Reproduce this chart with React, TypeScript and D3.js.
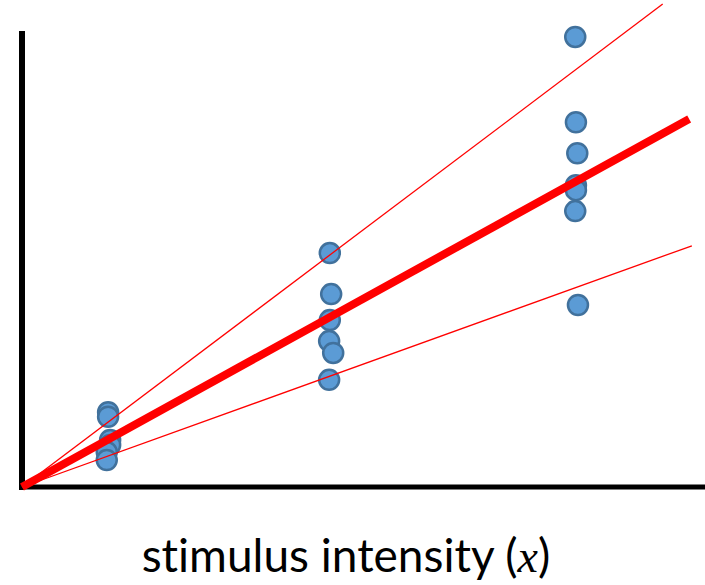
import React, { useEffect, useRef } from 'react';
import * as d3 from 'd3';

// stimulus levels (x) and responses (y), arbitrary units 0-100
const lowX = [12.7, 12.7, 13.0, 13.0, 12.5, 12.5];
const lowY = [16.4, 15.4, 10.3, 9.2, 7.7, 5.9];
const midX = [45.4, 45.6, 45.4, 45.3, 45.9, 45.3];
const midY = [51.3, 42.3, 36.6, 32.0, 29.4, 23.5];
const highX = [81.6, 81.7, 81.9, 81.7, 81.7, 81.6, 82.0];
const highY = [98.7, 80.0, 73.2, 66.2, 65.1, 60.5, 39.9];

// fitted line and its two bounds: end points, starting from origin
const fitLines = [
  { name: 'upper', x: 94.5, y: 105.9, width: 1.3 },
  { name: 'lower', x: 98.8, y: 52.9, width: 1.3 },
  { name: 'fit', x: 98.4, y: 80.7, width: 8 },
];

const xLabel = 'stimulus intensity (';

const App = () => {
  const svgRef = useRef<SVGSVGElement>(null);
  const width = 705;
  const height = 585;

  useEffect(() => {
    const svg = d3.select(svgRef.current);
    svg.selectAll('*').remove();

    const x = d3.scaleLinear().domain([0, 100]).range([22, 700]);
    const y = d3.scaleLinear().domain([0, 100]).range([487, 31]);

    const points = [
      ...lowX.map((v, i) => ({ x: v, y: lowY[i] })),
      ...midX.map((v, i) => ({ x: v, y: midY[i] })),
      ...highX.map((v, i) => ({ x: v, y: highY[i] })),
    ];

    // axes
    svg.append('line')
      .attr('x1', x(0)).attr('x2', x(0))
      .attr('y1', y(100)).attr('y2', y(0) + 3)
      .attr('stroke', '#000').attr('stroke-width', 6);
    svg.append('line')
      .attr('x1', x(0) - 3).attr('x2', width)
      .attr('y1', y(0)).attr('y2', y(0))
      .attr('stroke', '#000').attr('stroke-width', 5);

    // points
    svg.append('g')
      .selectAll('circle')
      .data(points)
      .join('circle')
      .attr('cx', d => x(d.x))
      .attr('cy', d => y(d.y))
      .attr('r', 10)
      .attr('fill', '#5b9bd5')
      .attr('stroke', '#41719c')
      .attr('stroke-width', 2.5);

    // lines
    svg.append('g')
      .selectAll('line')
      .data(fitLines)
      .join('line')
      .attr('x1', x(0)).attr('y1', y(0))
      .attr('x2', d => x(d.x)).attr('y2', d => y(d.y))
      .attr('stroke', '#ff0000')
      .attr('stroke-width', d => d.width);

    // x label
    const t = svg.append('text')
      .attr('x', 346)
      .attr('y', 572)
      .attr('text-anchor', 'middle')
      .attr('font-family', 'Lato, "Open Sans", sans-serif')
      .attr('font-size', 46)
      .style('font-variant-ligatures', 'none')
      .attr('fill', '#000');
    t.append('tspan').text(xLabel);
    t.append('tspan')
      .attr('font-family', '"Liberation Serif", serif')
      .attr('font-style', 'italic')
      .text('x');
    t.append('tspan').text(')');
  }, []);

  return (
    <svg ref={svgRef} width={width} height={height}
      style={{ position: 'absolute', left: 0, top: 0, background: '#fff' }} />
  );
};

export default App;
